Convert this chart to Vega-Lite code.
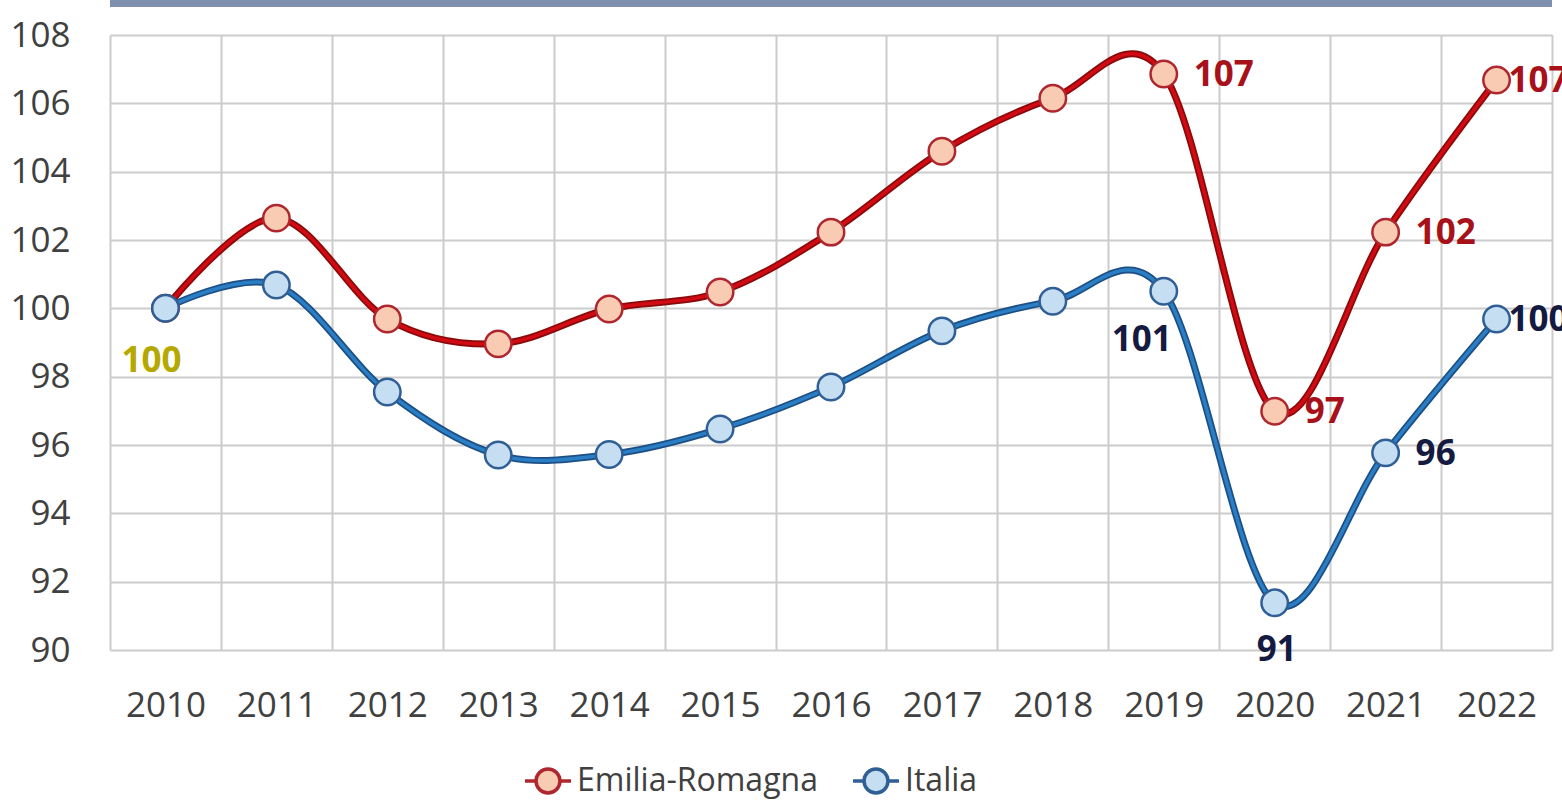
{
  "$schema": "https://vega.github.io/schema/vega-lite/v6.json",
  "width": 1442,
  "height": 615,
  "autosize": {"type": "none"},
  "padding": {"left": 110, "top": 35, "right": 10, "bottom": 157},
  "background": "white",
  "config": {
    "view": {"stroke": null},
    "font": "Open Sans",
    "axis": {"gridColor": "#cccccc", "gridWidth": 2, "labelFont": "Open Sans", "labelFontSize": 35, "labelColor": "#404040", "domain": false, "ticks": false}
  },
  "data": {
    "values": [
      {"year": "2010", "series": "Emilia-Romagna", "value": 100.0, "label": ""},
      {"year": "2011", "series": "Emilia-Romagna", "value": 102.64, "label": ""},
      {"year": "2012", "series": "Emilia-Romagna", "value": 99.69, "label": ""},
      {"year": "2013", "series": "Emilia-Romagna", "value": 98.96, "label": ""},
      {"year": "2014", "series": "Emilia-Romagna", "value": 99.98, "label": ""},
      {"year": "2015", "series": "Emilia-Romagna", "value": 100.48, "label": ""},
      {"year": "2016", "series": "Emilia-Romagna", "value": 102.23, "label": ""},
      {"year": "2017", "series": "Emilia-Romagna", "value": 104.6, "label": ""},
      {"year": "2018", "series": "Emilia-Romagna", "value": 106.15, "label": ""},
      {"year": "2019", "series": "Emilia-Romagna", "value": 106.86, "label": "107"},
      {"year": "2020", "series": "Emilia-Romagna", "value": 96.99, "label": "97"},
      {"year": "2021", "series": "Emilia-Romagna", "value": 102.23, "label": "102"},
      {"year": "2022", "series": "Emilia-Romagna", "value": 106.68, "label": "107"},
      {"year": "2010", "series": "Italia", "value": 100.0, "label": "100"},
      {"year": "2011", "series": "Italia", "value": 100.68, "label": ""},
      {"year": "2012", "series": "Italia", "value": 97.55, "label": ""},
      {"year": "2013", "series": "Italia", "value": 95.71, "label": ""},
      {"year": "2014", "series": "Italia", "value": 95.72, "label": ""},
      {"year": "2015", "series": "Italia", "value": 96.47, "label": ""},
      {"year": "2016", "series": "Italia", "value": 97.7, "label": ""},
      {"year": "2017", "series": "Italia", "value": 99.34, "label": ""},
      {"year": "2018", "series": "Italia", "value": 100.21, "label": ""},
      {"year": "2019", "series": "Italia", "value": 100.5, "label": "101"},
      {"year": "2020", "series": "Italia", "value": 91.38, "label": "91"},
      {"year": "2021", "series": "Italia", "value": 95.77, "label": "96"},
      {"year": "2022", "series": "Italia", "value": 99.69, "label": "100"}
    ]
  },
  "encoding": {
    "x": {
      "field": "year", "type": "ordinal",
      "scale": {"type": "band", "paddingInner": 0, "paddingOuter": 0},
      "axis": {"title": null, "labelAngle": 0, "tickBand": "extent", "grid": true, "labelPadding": 38}
    },
    "y": {
      "field": "value", "type": "quantitative",
      "scale": {"domain": [90, 108], "nice": false, "zero": false},
      "axis": {"title": null, "values": [90, 92, 94, 96, 98, 100, 102, 104, 106, 108], "labelPadding": 40, "grid": true}
    }
  },
  "layer": [
    {
      "mark": {"type": "rule", "color": "#7f8fb0", "strokeWidth": 7, "clip": false},
      "encoding": {"y": {"datum": 108.92}, "x": null}
    },
    {
      "transform": [{"filter": "datum.series === 'Emilia-Romagna'"}],
      "mark": {"type": "line", "interpolate": "cardinal", "color": "#8a0a0a", "strokeWidth": 7}
    },
    {
      "transform": [{"filter": "datum.series === 'Emilia-Romagna'"}],
      "mark": {"type": "line", "interpolate": "cardinal", "color": "#d20a14", "strokeWidth": 3.5}
    },
    {
      "transform": [{"filter": "datum.series === 'Italia'"}],
      "mark": {"type": "line", "interpolate": "cardinal", "color": "#1d4f86", "strokeWidth": 7}
    },
    {
      "transform": [{"filter": "datum.series === 'Italia'"}],
      "mark": {"type": "line", "interpolate": "cardinal", "color": "#2a7fc4", "strokeWidth": 3.5}
    },
    {
      "mark": {"type": "point", "filled": false, "shape": "circle", "size": 700, "strokeWidth": 2.5, "opacity": 1, "fillOpacity": 1},
      "encoding": {
        "fill": {
          "field": "series", "type": "nominal",
          "scale": {"domain": ["Emilia-Romagna", "Italia"], "range": ["#f8cbb2", "#c6def2"]},
          "legend": {
            "title": null, "orient": "none", "legendX": 413, "legendY": 721, "direction": "horizontal",
            "symbolType": "M-1,0 L-0.52,0 M0.52,0 L1,0 M0.52,0 A0.52,0.52 0 1,1 -0.52,0 A0.52,0.52 0 1,1 0.52,0 Z",
            "symbolSize": 2116, "symbolStrokeWidth": 3.5,
            "labelFont": "Open Sans", "labelFontSize": 32, "labelColor": "#404040", "labelLimit": 500,
            "labelOffset": 4, "columnPadding": 28, "padding": 0
          }
        },
        "stroke": {
          "field": "series", "type": "nominal",
          "scale": {"domain": ["Emilia-Romagna", "Italia"], "range": ["#b0262e", "#2f5f95"]}
        }
      }
    },
    {
      "transform": [{"filter": "(datum.year === '2019' && datum.series === 'Emilia-Romagna') || datum.year === '2021' || (datum.year === '2020' && datum.series === 'Emilia-Romagna')"}],
      "mark": {"type": "text", "align": "left", "baseline": "middle", "dx": 30, "dy": 1, "fontSize": 35, "fontWeight": "bold", "font": "Open Sans"},
      "encoding": {
        "text": {"field": "label"},
        "color": {"condition": {"test": "datum.series === 'Italia'", "value": "#141a40"}, "value": "#a8101a"}
      }
    },
    {
      "transform": [{"filter": "datum.year === '2022'"}],
      "mark": {"type": "text", "align": "left", "baseline": "middle", "dx": 12, "dy": 1, "fontSize": 35, "fontWeight": "bold", "font": "Open Sans"},
      "encoding": {
        "text": {"field": "label"},
        "color": {"condition": {"test": "datum.series === 'Italia'", "value": "#141a40"}, "value": "#a8101a"}
      }
    },
    {
      "transform": [{"filter": "datum.year === '2020' && datum.series === 'Italia'"}],
      "mark": {"type": "text", "align": "center", "baseline": "middle", "dy": 47, "dx": 2, "fontSize": 35, "fontWeight": "bold", "font": "Open Sans", "color": "#141a40"},
      "encoding": {"text": {"field": "label"}}
    },
    {
      "transform": [{"filter": "datum.year === '2019' && datum.series === 'Italia'"}],
      "mark": {"type": "text", "align": "center", "baseline": "middle", "dx": -22, "dy": 49, "fontSize": 35, "fontWeight": "bold", "font": "Open Sans", "color": "#141a40"},
      "encoding": {"text": {"field": "label"}}
    },
    {
      "transform": [{"filter": "datum.year === '2010' && datum.series === 'Italia'"}],
      "mark": {"type": "text", "align": "center", "baseline": "middle", "dx": -14, "dy": 53, "fontSize": 35, "fontWeight": "bold", "font": "Open Sans", "color": "#b5a800"},
      "encoding": {"text": {"field": "label"}}
    }
  ]
}
